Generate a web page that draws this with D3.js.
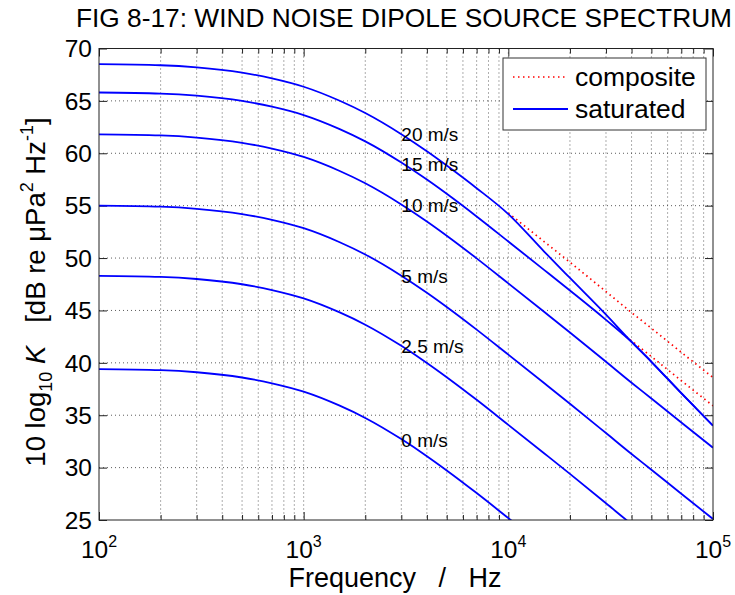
<!DOCTYPE html>
<html>
<head>
<meta charset="utf-8">
<script src="https://d3js.org/d3.v7.min.js"></script>
<style>
body { margin: 0; background: #fff; }
text { font-family: Arial, "Liberation Sans", sans-serif; fill: #000; }
</style>
</head>
<body>
<svg id="chart" width="735" height="595"></svg>
<script>
// frequencies (Hz) where the curves were read
var freqs = [100, 200, 300, 500, 700, 1000, 1500, 2000, 3000, 4000, 5000, 7000, 10000, 15000, 20000, 30000, 40000, 50000, 70000, 100000];

// saturated spectra, dB re uPa^2/Hz, one list per wind speed
var k0  = [39.4, 39.3, 39.1, 38.6, 38.05, 37.25, 35.91, 34.74, 32.72, 31.09, 29.73, 27.57, 25.18, 22.45, 20.5, 17.7, 15.7, 14.2, 11.9, 9.5];
var k25 = [48.3, 48.2, 48.0, 47.5, 46.95, 46.15, 44.81, 43.64, 41.62, 39.99, 38.63, 36.47, 34.08, 31.35, 29.4, 26.6, 24.6, 23.1, 20.8, 18.4];
var k5  = [55.0, 54.9, 54.7, 54.2, 53.65, 52.85, 51.51, 50.34, 48.32, 46.69, 45.33, 43.17, 40.78, 38.05, 36.1, 33.3, 31.3, 29.8, 27.5, 25.1];
var k10 = [61.8, 61.7, 61.5, 61.0, 60.45, 59.65, 58.31, 57.14, 55.12, 53.49, 52.13, 49.97, 47.58, 44.85, 42.9, 40.1, 38.1, 36.6, 34.3, 31.9];
var k15 = [65.8, 65.7, 65.5, 65.0, 64.45, 63.65, 62.31, 61.14, 59.12, 57.49, 56.13, 53.97, 51.58, 48.85, 46.9, 44.1, 42.0, 40.1, 37.1, 34.0];
var k20 = [68.5, 68.4, 68.2, 67.7, 67.15, 66.35, 65.01, 63.84, 61.82, 60.19, 58.83, 56.67, 54.2, 50.6, 48.1, 44.6, 42.0, 40.1, 37.1, 34.0];

// composite (unsaturated) tails
var compFreq15 = [36000, 40000, 50000, 70000, 100000];
var comp15     = [42.8, 42.1, 40.6, 38.3, 35.9];
var compFreq20 = [10000, 15000, 20000, 30000, 40000, 50000, 70000, 100000];
var comp20     = [54.3, 51.55, 49.6, 46.8, 44.8, 43.3, 41.0, 38.6];

// curve labels: text, dB at baseline, placed at 3 kHz
var labelText = ["0 m/s", "2.5 m/s", "5 m/s", "10 m/s", "15 m/s", "20 m/s"];
var labelDb   = [32.0, 40.9, 47.6, 54.4, 58.3, 61.2];
var labelFreq = 3000;

var yTicks = [25, 30, 35, 40, 45, 50, 55, 60, 65, 70];
var xMajor = [100, 1000, 10000, 100000];
var xExp   = ["2", "3", "4", "5"];

var marginLeft = 99, marginTop = 48.5;
var width = 614, height = 471.5;

var x = d3.scaleLog().domain([100, 100000]).range([0, width]);
var y = d3.scaleLinear().domain([25, 70]).range([height, 0]);

var svg = d3.select("#chart");

svg.append("text")
  .attr("x", 404).attr("y", 27)
  .attr("text-anchor", "middle")
  .style("font-size", "26.3px")
  .text("FIG 8-17: WIND NOISE DIPOLE SOURCE SPECTRUM");

var g = svg.append("g").attr("transform", "translate(" + marginLeft + "," + marginTop + ")");

g.append("clipPath").attr("id", "plotclip")
  .append("rect").attr("width", width).attr("height", height);

// grid
var xGrid = x.ticks().filter(function(d) { return d > 100 && d < 100000; });
g.selectAll(".xg").data(xGrid).enter().append("line")
  .attr("x1", function(d) { return x(d); }).attr("x2", function(d) { return x(d); })
  .attr("y1", 0).attr("y2", height)
  .attr("stroke", "#333").attr("stroke-width", 0.8).attr("stroke-dasharray", "1,3");
g.selectAll(".yg").data(yTicks.slice(1, -1)).enter().append("line")
  .attr("x1", 0).attr("x2", width)
  .attr("y1", function(d) { return y(d); }).attr("y2", function(d) { return y(d); })
  .attr("stroke", "#333").attr("stroke-width", 0.8).attr("stroke-dasharray", "1,3");

// inward ticks on all four sides
var minor = x.ticks().filter(function(d) { return xMajor.indexOf(d) < 0; });
function xt(axisFn, vals, len, ty) {
  g.append("g").attr("transform", "translate(0," + ty + ")")
    .call(axisFn(x).tickValues(vals).tickSizeInner(len).tickSizeOuter(0).tickFormat(""))
    .call(function(s) { s.select(".domain").remove(); s.selectAll("line").attr("stroke", "#222"); });
}
xt(d3.axisBottom, xMajor, -8, height);
xt(d3.axisBottom, minor, -5, height);
xt(d3.axisTop, xMajor, -8, 0);
xt(d3.axisTop, minor, -5, 0);
g.append("g")
  .call(d3.axisLeft(y).tickValues(yTicks).tickSizeInner(-8).tickSizeOuter(0).tickFormat(""))
  .call(function(s) { s.select(".domain").remove(); s.selectAll("line").attr("stroke", "#222"); });
g.append("g").attr("transform", "translate(" + width + ",0)")
  .call(d3.axisRight(y).tickValues(yTicks).tickSizeInner(-8).tickSizeOuter(0).tickFormat(""))
  .call(function(s) { s.select(".domain").remove(); s.selectAll("line").attr("stroke", "#222"); });

// tick labels
g.selectAll(".yl").data(yTicks).enter().append("text")
  .attr("x", -7).attr("y", function(d) { return y(d); })
  .attr("dy", "0.36em").attr("text-anchor", "end")
  .style("font-size", "24.5px")
  .text(function(d) { return d; });

var xl = g.selectAll(".xl").data(xMajor).enter().append("text")
  .attr("x", function(d) { return x(d); }).attr("y", height + 38)
  .attr("text-anchor", "middle")
  .style("font-size", "24.5px");
xl.append("tspan").text("10");
xl.append("tspan").attr("dy", -11).style("font-size", "16px")
  .text(function(d, i) { return xExp[i]; });

// curves
var line = d3.line()
  .curve(d3.curveMonotoneX)
  .x(function(d) { return x(d[0]); })
  .y(function(d) { return y(d[1]); });
function pairs(fs, vs) { return fs.map(function(f, i) { return [f, vs[i]]; }); }

var plot = g.append("g").attr("clip-path", "url(#plotclip)");

[[compFreq20, comp20], [compFreq15, comp15]].forEach(function(c) {
  plot.append("path").datum(pairs(c[0], c[1]))
    .attr("d", line).attr("fill", "none")
    .attr("stroke", "#ff0000").attr("stroke-width", 1.7)
    .attr("stroke-dasharray", "1.5,3.5");
});

[k0, k25, k5, k10, k15, k20].forEach(function(v) {
  plot.append("path").datum(pairs(freqs, v))
    .attr("d", line).attr("fill", "none")
    .attr("stroke", "#0000ff").attr("stroke-width", 1.8);
});

g.selectAll(".cl").data(labelText).enter().append("text")
  .attr("x", x(labelFreq))
  .attr("y", function(d, i) { return y(labelDb[i]); })
  .style("font-size", "19px")
  .text(function(d) { return d; });

// axes box
g.append("rect").attr("width", width).attr("height", height)
  .attr("fill", "none").attr("stroke", "#222").attr("stroke-width", 1);

// legend
var lg = g.append("g").attr("transform", "translate(" + (503 - marginLeft) + "," + (58 - marginTop) + ")");
lg.append("rect").attr("width", 203).attr("height", 72)
  .attr("fill", "#fff").attr("stroke", "#333").attr("stroke-width", 1);
lg.append("line").attr("x1", 10).attr("x2", 65).attr("y1", 19).attr("y2", 19)
  .attr("stroke", "#ff0000").attr("stroke-width", 1.7).attr("stroke-dasharray", "1.5,3.5");
lg.append("line").attr("x1", 10).attr("x2", 65).attr("y1", 51).attr("y2", 51)
  .attr("stroke", "#0000ff").attr("stroke-width", 1.8);
lg.append("text").attr("x", 72).attr("y", 28).style("font-size", "26.5px").text("composite");
lg.append("text").attr("x", 72).attr("y", 60).style("font-size", "26.5px").text("saturated");

// axis labels
svg.append("text")
  .attr("x", 395).attr("y", 587)
  .attr("text-anchor", "middle")
  .attr("xml:space", "preserve").style("white-space", "pre")
  .style("font-size", "27px")
  .text("Frequency   /   Hz");

var yl = svg.append("text")
  .attr("transform", "translate(45,292) rotate(-90)")
  .attr("text-anchor", "middle")
  .attr("xml:space", "preserve").style("white-space", "pre")
  .style("font-size", "27.5px");
yl.append("tspan").text("10 log");
yl.append("tspan").attr("dy", 7).style("font-size", "18px").text("10");
yl.append("tspan").attr("dy", -7).text(" ");
yl.append("tspan").style("font-style", "italic").text("K");
yl.append("tspan").text("   [dB re \u03bcPa");
yl.append("tspan").attr("dy", -12).style("font-size", "18px").text("2");
yl.append("tspan").attr("dy", 12).text(" Hz");
yl.append("tspan").attr("dy", -12).style("font-size", "18px").text("-1");
yl.append("tspan").attr("dy", 12).text("]");
</script>
</body>
</html>
